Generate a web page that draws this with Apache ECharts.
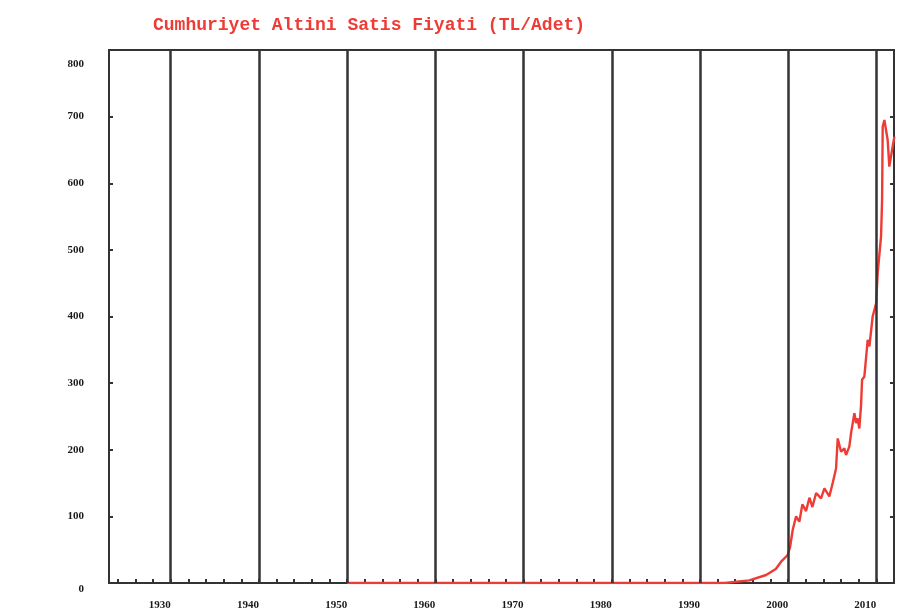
<!DOCTYPE html>
<html>
<head>
<meta charset="utf-8">
<script src="https://cdn.jsdelivr.net/npm/echarts@6/dist/echarts.min.js"></script>
<style>html,body{margin:0;padding:0;background:#fff}#c{width:897px;height:615px}</style>
</head>
<body>
<div id="c"></div>
<script>
const titleText = 'Cumhuriyet Altini Satis Fiyati (TL/Adet)';
const decadeYears = [1930, 1940, 1950, 1960, 1970, 1980, 1990, 2000, 2010];
const minorTickYears = [1924,1926,1928,1930,1932,1934,1936,1938,1940,1942,1944,1946,1948,1950,1952,1954,1956,1958,1960,1962,1964,1966,1968,1970,1972,1974,1976,1978,1980,1982,1984,1986,1988,1990,1992,1994,1996,1998,2000,2002,2004,2006,2008,2010];
const priceYears = [1950, 1992.8, 1995.6, 1997.5, 1998.6, 1999.2, 1999.95, 2000.22, 2000.52, 2000.9, 2001.27, 2001.61, 2002.03, 2002.41, 2002.75, 2003.17, 2003.73, 2004.11, 2004.67, 2005.05, 2005.43, 2005.62, 2006.0, 2006.37, 2006.56, 2006.94, 2007.13, 2007.51, 2007.7, 2007.88, 2008.07, 2008.27, 2008.38, 2008.64, 2009.02, 2009.21, 2009.58, 2009.97, 2010.15, 2010.53, 2010.65, 2010.72, 2010.91, 2011.28, 2011.47, 2011.78, 2012.04];
const priceValues = [0, 0, 4, 12, 21, 32, 42, 54, 80, 100, 92, 118, 108, 128, 114, 135, 127, 142, 130, 150, 172, 217, 197, 202, 192, 205, 225, 255, 240, 247, 232, 268, 305, 310, 365, 355, 400, 420, 465, 520, 575, 685, 695, 665, 625, 650, 670];

const lineData = priceYears.map((y, i) => [y, priceValues[i]]);
const dark = '#333333';
const labelFont = { color: '#1a1a1a', fontFamily: 'Liberation Serif', fontWeight: 'bold', fontSize: 11 };

const chart = echarts.init(document.getElementById('c'));
chart.setOption({
  backgroundColor: '#fff',
  animation: false,
  title: {
    text: titleText,
    left: 148,
    top: 11,
    textStyle: { color: '#ee3b35', fontFamily: 'Liberation Mono', fontWeight: 'bold', fontSize: 18 }
  },
  grid: { left: 109, right: 3, top: 50, bottom: 32, show: true, borderColor: dark, borderWidth: 2, backgroundColor: 'transparent' },
  xAxis: {
    type: 'value', min: 1923, max: 2012,
    axisLine: { show: true, lineStyle: { color: dark, width: 2 } },
    axisTick: { show: true, inside: true, length: 4, customValues: minorTickYears, lineStyle: { color: dark, width: 2 } },
    axisLabel: Object.assign({ customValues: decadeYears, align: 'right', margin: 17, formatter: v => String(v) }, labelFont),
    splitLine: { show: false }
  },
  yAxis: [{
    type: 'value', min: 0, max: 800, interval: 100,
    axisLine: { show: true, lineStyle: { color: dark, width: 2 } },
    axisTick: { show: true, inside: true, length: 4, lineStyle: { color: dark, width: 2 } },
    axisLabel: Object.assign({
      margin: 25,
      formatter: v => v === 800 ? '{top|800}' : (v === 0 ? '{bot|0}' : String(v)),
      rich: {
        top: Object.assign({ padding: [28, 0, 0, 0] }, labelFont),
        bot: Object.assign({ padding: [12, 0, 0, 0] }, labelFont)
      }
    }, labelFont),
    splitLine: { show: false }
  }, {
    type: 'value', min: 0, max: 800, interval: 100, position: 'right',
    axisLine: { show: true, lineStyle: { color: dark, width: 2 } },
    axisTick: { show: true, inside: true, length: 4, lineStyle: { color: dark, width: 2 } },
    axisLabel: { show: false },
    splitLine: { show: false }
  }],
  series: [{
    type: 'line',
    data: lineData,
    showSymbol: false,
    clip: true,
    lineStyle: { color: '#ee3b35', width: 2.4 },
    z: 3,
    markLine: {
      silent: true,
      symbol: ['none', 'none'],
      label: { show: false },
      lineStyle: { color: dark, width: 2.5, type: 'solid' },
      data: decadeYears.map(y => ({ xAxis: y }))
    }
  }]
});
</script>
</body>
</html>
